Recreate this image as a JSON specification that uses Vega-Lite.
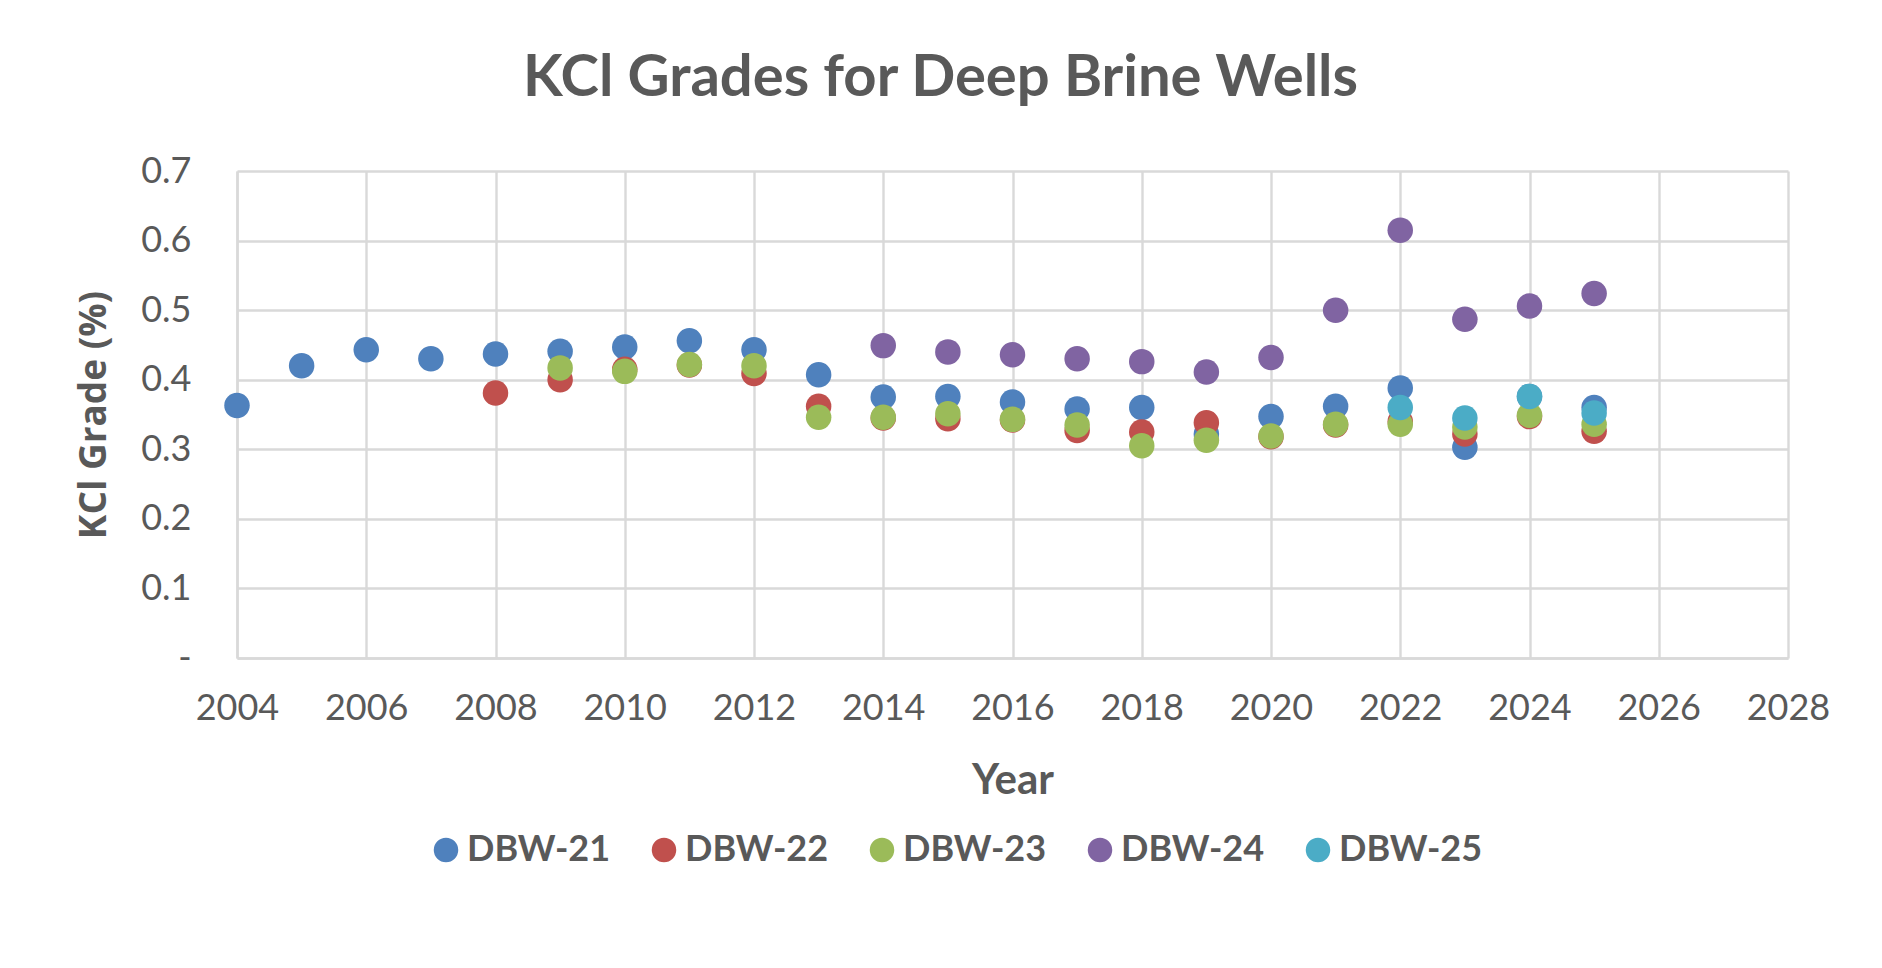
{
  "$schema": "https://vega.github.io/schema/vega-lite/v6.json",
  "width": 1551,
  "height": 487,
  "autosize": {"type": "none"},
  "padding": {"left": 237, "top": 171, "right": 94, "bottom": 310},
  "background": "white",
  "title": {
    "text": "KCl Grades for Deep Brine Wells",
    "font": "Lato",
    "fontSize": 58,
    "fontWeight": "bold",
    "color": "#595959",
    "anchor": "middle",
    "baseline": "alphabetic",
    "dx": -72,
    "offset": -1
  },
  "data": {
    "values": [
      {"Year": 2004, "Well": "DBW-21", "Grade": 0.363},
      {"Year": 2005, "Well": "DBW-21", "Grade": 0.420},
      {"Year": 2006, "Well": "DBW-21", "Grade": 0.443},
      {"Year": 2007, "Well": "DBW-21", "Grade": 0.430},
      {"Year": 2008, "Well": "DBW-21", "Grade": 0.437},
      {"Year": 2009, "Well": "DBW-21", "Grade": 0.441},
      {"Year": 2010, "Well": "DBW-21", "Grade": 0.447},
      {"Year": 2011, "Well": "DBW-21", "Grade": 0.456},
      {"Year": 2012, "Well": "DBW-21", "Grade": 0.443},
      {"Year": 2013, "Well": "DBW-21", "Grade": 0.407},
      {"Year": 2014, "Well": "DBW-21", "Grade": 0.375},
      {"Year": 2015, "Well": "DBW-21", "Grade": 0.376},
      {"Year": 2016, "Well": "DBW-21", "Grade": 0.368},
      {"Year": 2017, "Well": "DBW-21", "Grade": 0.358},
      {"Year": 2018, "Well": "DBW-21", "Grade": 0.360},
      {"Year": 2019, "Well": "DBW-21", "Grade": 0.322},
      {"Year": 2020, "Well": "DBW-21", "Grade": 0.347},
      {"Year": 2021, "Well": "DBW-21", "Grade": 0.362},
      {"Year": 2022, "Well": "DBW-21", "Grade": 0.388},
      {"Year": 2023, "Well": "DBW-21", "Grade": 0.303},
      {"Year": 2024, "Well": "DBW-21", "Grade": 0.376},
      {"Year": 2025, "Well": "DBW-21", "Grade": 0.360},
      {"Year": 2008, "Well": "DBW-22", "Grade": 0.381},
      {"Year": 2009, "Well": "DBW-22", "Grade": 0.400},
      {"Year": 2010, "Well": "DBW-22", "Grade": 0.415},
      {"Year": 2011, "Well": "DBW-22", "Grade": 0.421},
      {"Year": 2012, "Well": "DBW-22", "Grade": 0.409},
      {"Year": 2013, "Well": "DBW-22", "Grade": 0.362},
      {"Year": 2014, "Well": "DBW-22", "Grade": 0.345},
      {"Year": 2015, "Well": "DBW-22", "Grade": 0.344},
      {"Year": 2016, "Well": "DBW-22", "Grade": 0.342},
      {"Year": 2017, "Well": "DBW-22", "Grade": 0.327},
      {"Year": 2018, "Well": "DBW-22", "Grade": 0.325},
      {"Year": 2019, "Well": "DBW-22", "Grade": 0.338},
      {"Year": 2020, "Well": "DBW-22", "Grade": 0.318},
      {"Year": 2021, "Well": "DBW-22", "Grade": 0.335},
      {"Year": 2022, "Well": "DBW-22", "Grade": 0.340},
      {"Year": 2023, "Well": "DBW-22", "Grade": 0.322},
      {"Year": 2024, "Well": "DBW-22", "Grade": 0.347},
      {"Year": 2025, "Well": "DBW-22", "Grade": 0.326},
      {"Year": 2009, "Well": "DBW-23", "Grade": 0.417},
      {"Year": 2010, "Well": "DBW-23", "Grade": 0.412},
      {"Year": 2011, "Well": "DBW-23", "Grade": 0.422},
      {"Year": 2012, "Well": "DBW-23", "Grade": 0.420},
      {"Year": 2013, "Well": "DBW-23", "Grade": 0.346},
      {"Year": 2014, "Well": "DBW-23", "Grade": 0.346},
      {"Year": 2015, "Well": "DBW-23", "Grade": 0.351},
      {"Year": 2016, "Well": "DBW-23", "Grade": 0.343},
      {"Year": 2017, "Well": "DBW-23", "Grade": 0.335},
      {"Year": 2018, "Well": "DBW-23", "Grade": 0.305},
      {"Year": 2019, "Well": "DBW-23", "Grade": 0.313},
      {"Year": 2020, "Well": "DBW-23", "Grade": 0.319},
      {"Year": 2021, "Well": "DBW-23", "Grade": 0.336},
      {"Year": 2022, "Well": "DBW-23", "Grade": 0.336},
      {"Year": 2023, "Well": "DBW-23", "Grade": 0.332},
      {"Year": 2024, "Well": "DBW-23", "Grade": 0.349},
      {"Year": 2025, "Well": "DBW-23", "Grade": 0.336},
      {"Year": 2014, "Well": "DBW-24", "Grade": 0.449},
      {"Year": 2015, "Well": "DBW-24", "Grade": 0.440},
      {"Year": 2016, "Well": "DBW-24", "Grade": 0.436},
      {"Year": 2017, "Well": "DBW-24", "Grade": 0.430},
      {"Year": 2018, "Well": "DBW-24", "Grade": 0.426},
      {"Year": 2019, "Well": "DBW-24", "Grade": 0.411},
      {"Year": 2020, "Well": "DBW-24", "Grade": 0.432},
      {"Year": 2021, "Well": "DBW-24", "Grade": 0.500},
      {"Year": 2022, "Well": "DBW-24", "Grade": 0.615},
      {"Year": 2023, "Well": "DBW-24", "Grade": 0.487},
      {"Year": 2024, "Well": "DBW-24", "Grade": 0.506},
      {"Year": 2025, "Well": "DBW-24", "Grade": 0.524},
      {"Year": 2022, "Well": "DBW-25", "Grade": 0.360},
      {"Year": 2023, "Well": "DBW-25", "Grade": 0.345},
      {"Year": 2024, "Well": "DBW-25", "Grade": 0.376},
      {"Year": 2025, "Well": "DBW-25", "Grade": 0.352}
    ]
  },
  "mark": {"type": "point", "shape": "circle", "filled": true, "opacity": 1, "size": 650},
  "encoding": {
    "x": {
      "field": "Year",
      "type": "quantitative",
      "scale": {"domain": [2004, 2028], "nice": false, "zero": false},
      "axis": {
        "title": "Year",
        "format": "d",
        "values": [2004, 2006, 2008, 2010, 2012, 2014, 2016, 2018, 2020, 2022, 2024, 2026, 2028],
        "labelFlush": false,
        "labelOverlap": false,
        "labelPadding": 33,
        "titlePadding": 34
      }
    },
    "y": {
      "field": "Grade",
      "type": "quantitative",
      "scale": {"domain": [0, 0.7], "nice": false},
      "axis": {
        "title": "KCl Grade (%)",
        "values": [0, 0.1, 0.2, 0.3, 0.4, 0.5, 0.6, 0.7],
        "labelExpr": "datum.value == 0 ? '-  ' : format(datum.value, '.1f')",
        "labelPadding": 46,
        "titlePadding": 27,
        "titleFont": "Open Sans",
        "titleFontSize": 37
      }
    },
    "color": {
      "field": "Well",
      "type": "nominal",
      "scale": {
        "domain": ["DBW-21", "DBW-22", "DBW-23", "DBW-24", "DBW-25"],
        "range": ["#4F81BD", "#C0504D", "#9BBB59", "#8064A2", "#4BACC6"]
      },
      "legend": {
        "title": null,
        "orient": "none",
        "legendX": 191,
        "legendY": 661,
        "direction": "horizontal",
        "symbolType": "circle",
        "symbolSize": 600,
        "labelOffset": 3,
        "columnPadding": 35,
        "labelFont": "Lato",
        "labelFontSize": 36,
        "labelFontWeight": "bold",
        "labelColor": "#595959"
      }
    },
    "order": {"field": "Well"}
  },
  "config": {
    "view": {"stroke": null},
    "axis": {
      "grid": true,
      "gridColor": "#D9D9D9",
      "gridWidth": 2.4,
      "domainColor": "#D9D9D9",
      "domainWidth": 2.4,
      "ticks": false,
      "labelFont": "Lato",
      "labelFontSize": 36,
      "labelColor": "#595959",
      "titleFont": "Lato",
      "titleFontSize": 42,
      "titleFontWeight": "bold",
      "titleColor": "#595959"
    }
  }
}
